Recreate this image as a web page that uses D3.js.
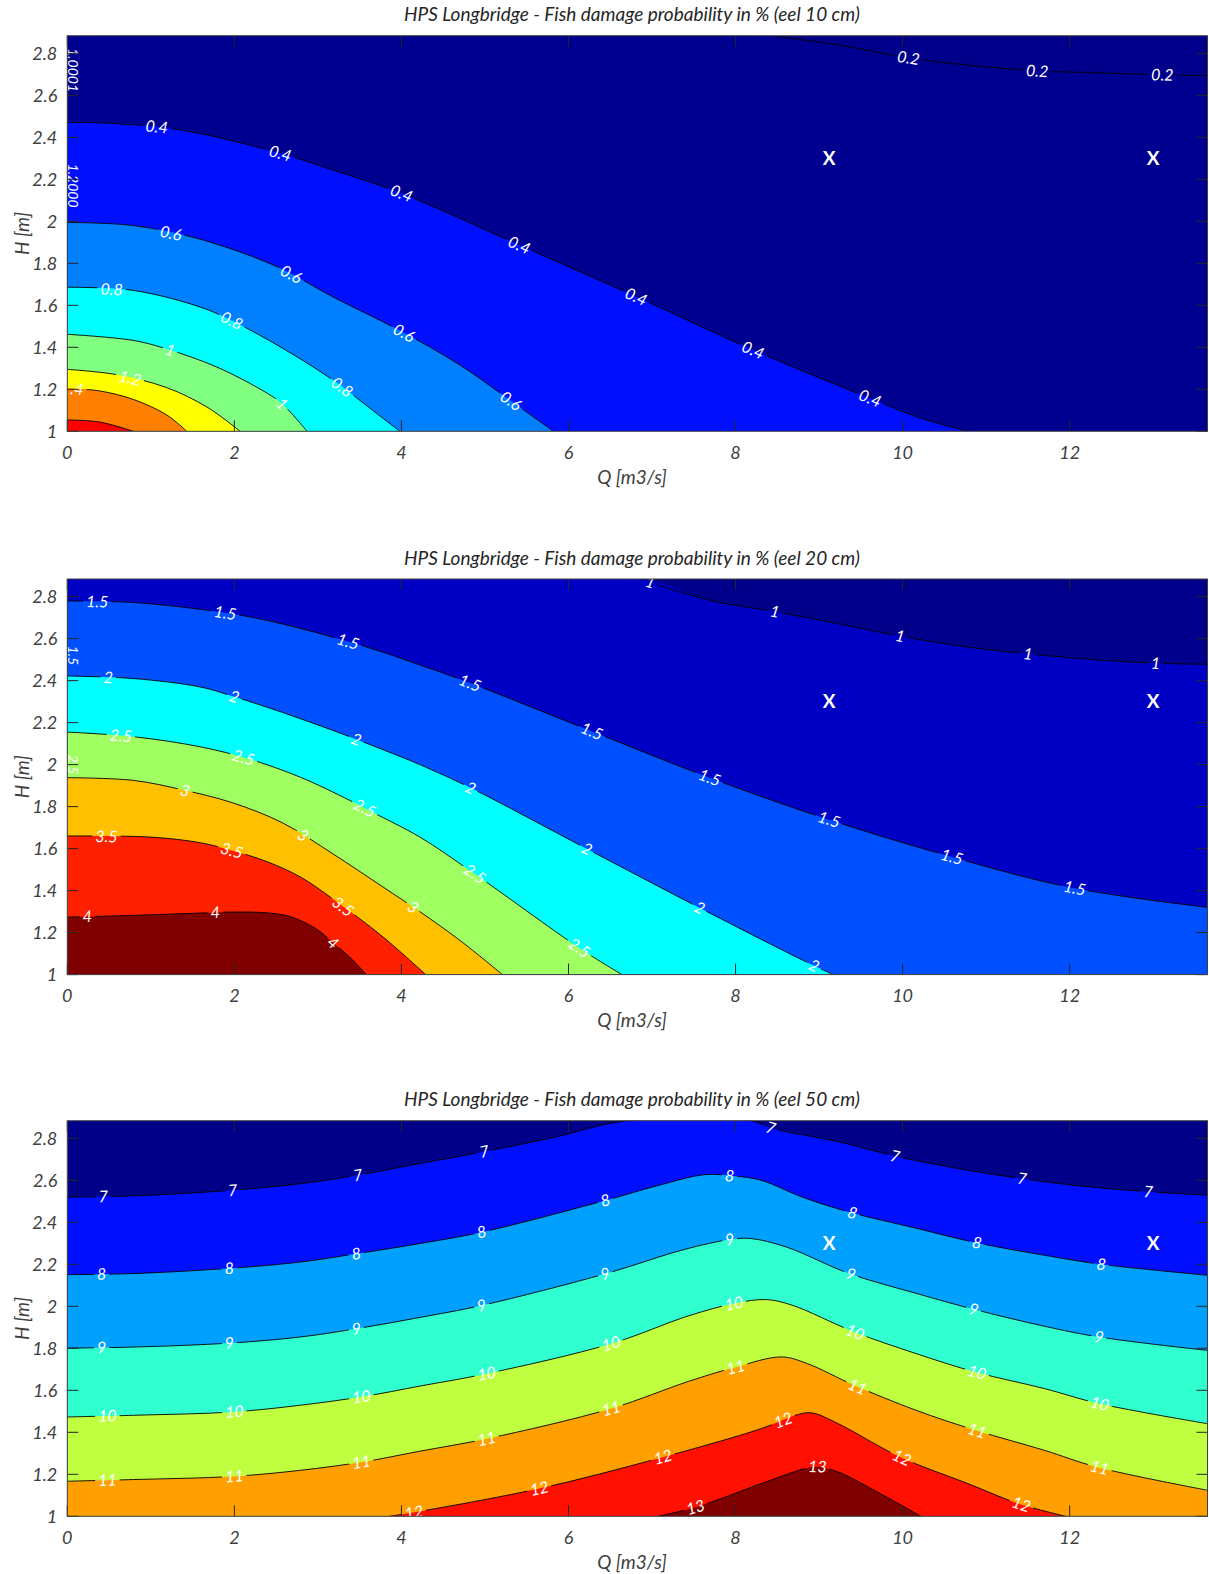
<!DOCTYPE html>
<html><head><meta charset="utf-8">
<script src="https://cdn.jsdelivr.net/npm/d3@7"></script>
<style>
html,body{margin:0;padding:0;background:#fff;}
svg{display:block;}
text{font-family:Lato,"Open Sans",sans-serif;}
</style></head><body>
<svg id="chart" width="1209" height="1574"></svg>
<script>
// ---------------- data ----------------
const Q_RANGE = [0, 13.65];
const H_RANGE = [1, 2.884];
const qTicks = [0, 2, 4, 6, 8, 10, 12];
const qTickLabels = ["0", "2", "4", "6", "8", "10", "12"];
const hTicks = [1, 1.2, 1.4, 1.6, 1.8, 2, 2.2, 2.4, 2.6, 2.8];
const hTickLabels = ["1", "1.2", "1.4", "1.6", "1.8", "2", "2.2", "2.4", "2.6", "2.8"];
const markerQ = [9.12, 13.0];
const markerH = [2.3, 2.3];
const titles = [
  "HPS Longbridge - Fish damage probability in % (eel 10 cm)",
  "HPS Longbridge - Fish damage probability in % (eel 20 cm)",
  "HPS Longbridge - Fish damage probability in % (eel 50 cm)"
];
const xLabel = "Q [m3/s]";
const yLabel = "H [m]";

// eel 10 cm: contour lines [Q, H]
const eel10Levels = ["0.2", "0.4", "0.6", "0.8", "1", "1.2", "1.4", "1.6"];
const eel10_c02 = [[8.43,2.884],[9.23,2.84],[10.07,2.778],[10.78,2.744],[11.61,2.716],[12.32,2.708],[13.11,2.697],[13.65,2.694]];
const eel10_c04 = [[0,2.471],[0.39,2.469],[1.07,2.45],[1.59,2.418],[2.55,2.324],[3.18,2.244],[4.0,2.133],[5.41,1.887],[6.81,1.641],[8.21,1.387],[9.61,1.157],[10.2,1.065],[10.78,1.0]];
const eel10_c06 = [[0,1.995],[0.79,1.98],[1.59,1.915],[2.51,1.784],[3.18,1.64],[3.98,1.48],[4.7,1.316],[5.31,1.145],[5.82,1.0]];
const eel10_c08 = [[0,1.686],[0.79,1.671],[1.59,1.592],[1.98,1.525],[2.58,1.395],[3.18,1.244],[3.59,1.12],[3.98,1.0]];
const eel10_c10 = [[0,1.462],[0.79,1.433],[1.19,1.392],[1.79,1.306],[2.39,1.182],[2.58,1.128],[2.87,1.0]];
const eel10_c12 = [[0,1.295],[0.59,1.27],[1.19,1.208],[1.67,1.116],[2.07,1.0]];
const eel10_c14 = [[0,1.205],[0.39,1.192],[0.79,1.152],[1.19,1.078],[1.43,1.0]];
const eel10_c16 = [[0,1.054],[0.39,1.044],[0.79,1.0]];
const eel10LabelQ = [[10.07,11.61,13.11],[1.07,2.55,4.0,5.41,6.81,8.21,9.61],[1.24,2.68,4.03,5.31],[0.53,1.97,3.29],[1.23,2.57],[0.75],[0.06],[]];
const eel10EdgeText = ["1.0001", "1.2000"];
const eel10EdgeH = [2.72, 2.17];

// eel 20 cm
const eel20Levels = ["1", "1.5", "2", "2.5", "3", "3.5", "4"];
const eel20_c10 = [[6.85,2.884],[7.69,2.783],[8.49,2.727],[9.23,2.671],[9.97,2.612],[10.78,2.56],[11.52,2.527],[12.32,2.499],[13.03,2.483],[13.65,2.478]];
const eel20_c15 = [[0,2.779],[0.79,2.772],[1.79,2.729],[2.39,2.687],[3.18,2.607],[3.78,2.535],[4.22,2.475],[4.78,2.395],[6.21,2.17],[7.62,1.948],[9.04,1.748],[10.53,1.567],[12.01,1.415],[13.65,1.32]];
const eel20_c20 = [[0,2.422],[0.79,2.41],[1.59,2.37],[1.98,2.326],[2.58,2.248],[3.18,2.163],[3.78,2.071],[4.22,2.0],[4.84,1.887],[6.21,1.601],[7.56,1.32],[8.93,1.044],[9.17,1.0]];
const eel20_c25 = [[0,2.155],[0.79,2.133],[1.59,2.085],[2.19,2.025],[2.79,1.94],[3.38,1.83],[3.66,1.772],[4.22,1.655],[4.84,1.49],[6.14,1.124],[6.64,1.0]];
const eel20_c30 = [[0,1.938],[0.79,1.925],[1.38,1.88],[1.98,1.818],[2.58,1.722],[3.18,1.575],[3.78,1.417],[4.22,1.3],[4.7,1.163],[5.21,1.0]];
const eel20_c35 = [[0,1.66],[0.99,1.655],[1.59,1.628],[1.98,1.59],[2.39,1.538],[2.79,1.465],[3.18,1.36],[3.78,1.179],[4.29,1.0]];
const eel20_c40 = [[0,1.274],[0.79,1.282],[1.59,1.293],[1.98,1.298],[2.39,1.294],[2.67,1.276],[2.98,1.218],[3.18,1.152],[3.38,1.084],[3.58,1.0]];
const eel20LabelQ = [[6.98,8.47,9.97,11.5,13.03],[0.36,1.89,3.36,4.82,6.28,7.69,9.12,10.59,12.06],[0.49,2.0,3.46,4.83,6.22,7.57,8.94],[0.64,2.11,3.56,4.88,6.13],[1.41,2.82,4.14],[0.47,1.97,3.3],[0.24,1.77,3.18]];
const eel20EdgeText = ["1.5", "2.5"];
const eel20EdgeH = [2.52, 2.0];

// eel 50 cm
const eel50Levels = ["7", "8", "9", "10", "11", "12", "13"];
const eel50_c07 = [[0,2.52],[0.79,2.526],[1.98,2.553],[2.79,2.584],[3.47,2.624],[4.22,2.68],[4.97,2.735],[5.83,2.805],[6.7,2.884],[8.18,2.884],[8.43,2.848],[9.23,2.784],[9.91,2.715],[10.65,2.657],[11.39,2.61],[12.2,2.57],[12.94,2.546],[13.65,2.529]];
const eel50_c08 = [[0,2.151],[0.79,2.156],[1.98,2.182],[2.79,2.211],[3.47,2.251],[4.22,2.299],[4.97,2.354],[6.45,2.505],[7.07,2.575],[7.63,2.627],[8.0,2.62],[8.31,2.6],[8.8,2.52],[9.36,2.449],[10.16,2.372],[10.87,2.304],[11.7,2.243],[12.38,2.2],[13.65,2.148]];
const eel50_c09 = [[0,1.801],[0.79,1.806],[1.95,1.825],[2.79,1.854],[3.47,1.894],[4.22,1.947],[4.97,2.005],[6.45,2.156],[7.38,2.27],[7.93,2.318],[8.18,2.323],[8.61,2.282],[9.36,2.156],[10.16,2.062],[10.84,1.987],[11.7,1.905],[12.35,1.854],[13.65,1.79]];
const eel50_c10 = [[0,1.473],[0.79,1.481],[1.98,1.497],[2.79,1.529],[3.54,1.57],[4.22,1.62],[5.03,1.68],[6.51,1.822],[7.44,1.955],[8.0,2.015],[8.37,2.032],[8.68,2.005],[9.42,1.878],[10.16,1.775],[10.87,1.687],[11.7,1.608],[12.35,1.537],[13.65,1.441]];
const eel50_c11 = [[0,1.167],[0.79,1.175],[1.98,1.19],[2.79,1.219],[3.54,1.259],[4.22,1.31],[5.03,1.37],[6.51,1.513],[7.44,1.643],[8.0,1.71],[8.55,1.759],[8.86,1.727],[9.42,1.624],[10.16,1.505],[10.87,1.41],[11.7,1.314],[12.32,1.235],[13.65,1.124]];
const eel50_c12 = [[3.86,1.0],[4.17,1.02],[5.65,1.132],[7.07,1.275],[8.31,1.418],[8.75,1.485],[8.92,1.492],[9.23,1.441],[9.97,1.282],[10.78,1.156],[11.39,1.06],[11.95,1.0]];
const eel50_c13 = [[7.07,1.0],[7.53,1.044],[8.31,1.156],[8.82,1.226],[8.98,1.236],[9.23,1.211],[9.66,1.124],[10.22,1.0]];
const eel50LabelQ = [[0.43,1.98,3.48,4.99,8.42,9.91,11.43,12.94],[0.41,1.94,3.46,4.96,6.44,7.93,9.4,10.89,12.38],[0.41,1.94,3.46,4.96,6.44,7.93,9.38,10.85,12.35],[0.48,2.0,3.52,5.02,6.51,7.98,9.43,10.89,12.36],[0.48,2.0,3.52,5.02,6.51,8.0,9.46,10.89,12.36],[4.15,5.65,7.13,8.57,9.99,11.42],[7.52,8.98]];
const eel50EdgeText = [];
const eel50EdgeH = [];

// ---------------- styles ----------------
const eel10Colors = ["#00008A","#000090","#0010FF","#0080FF","#00FFFF","#80FF80","#FFFF00","#FF8000","#FF0000"];
const eel20Colors = ["#00008A","#0000C4","#0050FF","#00FFFF","#A0FF60","#FFC000","#FF2000","#800000"];
const eel50Colors = ["#000088","#0010FF","#00A0FF","#30FFD0","#C0FF40","#FFA000","#FF1000","#800000"];

const panels = [
  {title: titles[0], top: 35.7, levels: eel10Levels, colors: eel10Colors,
   lines: [eel10_c02, eel10_c04, eel10_c06, eel10_c08, eel10_c10, eel10_c12, eel10_c14, eel10_c16],
   labelQ: eel10LabelQ, edgeText: eel10EdgeText, edgeH: eel10EdgeH},
  {title: titles[1], top: 579, levels: eel20Levels, colors: eel20Colors,
   lines: [eel20_c10, eel20_c15, eel20_c20, eel20_c25, eel20_c30, eel20_c35, eel20_c40],
   labelQ: eel20LabelQ, edgeText: eel20EdgeText, edgeH: eel20EdgeH},
  {title: titles[2], top: 1120.7, levels: eel50Levels, colors: eel50Colors,
   lines: [eel50_c07, eel50_c08, eel50_c09, eel50_c10, eel50_c11, eel50_c12, eel50_c13],
   labelQ: eel50LabelQ, edgeText: eel50EdgeText, edgeH: eel50EdgeH}
];

// ---------------- drawing ----------------
const LEFT = 67.3, PW = 1140.2, PH = 395.6;
const svg = d3.select("#chart");
const defs = svg.append("defs");
const x = d3.scaleLinear().domain(Q_RANGE).range([0, PW]);
const y = d3.scaleLinear().domain(H_RANGE).range([PH, 0]);
const curve = d3.curveCatmullRom.alpha(0.5);
const area = d3.area().x(d => x(d[0])).y0(y(H_RANGE[0])).y1(d => y(d[1])).curve(curve);
const line = d3.line().x(d => x(d[0])).y(d => y(d[1])).curve(curve);

function interpH(pts, q) {
  if (q <= pts[0][0]) return pts[0][1];
  for (let i = 1; i < pts.length; i++) {
    if (q <= pts[i][0]) {
      const a = pts[i-1], b = pts[i];
      const t = (q - a[0]) / (b[0] - a[0] || 1);
      return a[1] + t * (b[1] - a[1]);
    }
  }
  return pts[pts.length-1][1];
}

panels.forEach((p, pi) => {
  const g = svg.append("g").attr("transform", `translate(${LEFT},${p.top})`);
  const clipId = "clip" + pi, maskId = "mask" + pi;
  defs.append("clipPath").attr("id", clipId).append("rect").attr("width", PW).attr("height", PH);
  const plot = g.append("g").attr("clip-path", `url(#${clipId})`);

  plot.append("rect").attr("width", PW).attr("height", PH).attr("fill", p.colors[0]);
  p.lines.forEach((pts, i) => {
    let d = pts.slice();
    if (d[0][0] > Q_RANGE[0] && d[0][1] >= H_RANGE[1] - 1e-9) d = [[Q_RANGE[0], H_RANGE[1]]].concat(d);
    plot.append("path").datum(d).attr("d", area).attr("fill", p.colors[i + 1]);
  });

  const mask = defs.append("mask").attr("id", maskId).attr("maskUnits", "userSpaceOnUse")
    .attr("x", -20).attr("y", -20).attr("width", PW + 40).attr("height", PH + 40);
  mask.append("rect").attr("x", -20).attr("y", -20).attr("width", PW + 40).attr("height", PH + 40).attr("fill", "#fff");

  const lineG = plot.append("g").attr("mask", `url(#${maskId})`);
  p.lines.forEach(pts => {
    lineG.append("path").datum(pts).attr("d", line).attr("fill", "none")
      .attr("stroke", "#000").attr("stroke-width", 0.9);
  });

  const labG = plot.append("g");
  p.lines.forEach((pts, i) => {
    p.labelQ[i].forEach(q => {
      const h = interpH(pts, q);
      const q0 = Math.max(pts[0][0], q - 0.2), q1 = Math.min(pts[pts.length-1][0], q + 0.2);
      const dx = x(q1) - x(q0), dy = y(interpH(pts, q1)) - y(interpH(pts, q0));
      const ang = Math.atan2(dy, dx) * 180 / Math.PI;
      const px = x(q), py = y(h);
      const t = labG.append("text")
        .attr("transform", `translate(${px},${py}) rotate(${ang})`)
        .attr("text-anchor", "middle").attr("dy", "0.35em")
        .attr("font-size", 16).attr("font-style", "italic").attr("fill", "#fff")
        .text(p.levels[i]);
      const w = t.node().getComputedTextLength() + 6;
      mask.append("rect").attr("x", -w / 2).attr("y", -7).attr("width", w).attr("height", 14)
        .attr("transform", `translate(${px},${py}) rotate(${ang})`).attr("fill", "#000");
    });
  });

  p.edgeText.forEach((s, i) => {
    labG.append("text")
      .attr("transform", `translate(${x(Q_RANGE[0]) + 1},${y(p.edgeH[i])}) rotate(90)`)
      .attr("text-anchor", "middle").attr("font-size", 14).attr("font-style", "italic")
      .attr("fill", "#fff").text(s);
  });

  markerQ.forEach((q, i) => {
    plot.append("text").attr("x", x(q)).attr("y", y(markerH[i])).attr("dy", "0.36em")
      .attr("text-anchor", "middle").attr("font-size", 19).attr("font-weight", "bold")
      .attr("fill", "#fff").text("X");
  });

  // frame and ticks
  const TL = 11, tc = "#262626";
  qTicks.forEach(q => {
    g.append("line").attr("x1", x(q)).attr("x2", x(q)).attr("y1", PH).attr("y2", PH - TL).attr("stroke", tc);
    g.append("line").attr("x1", x(q)).attr("x2", x(q)).attr("y1", 0).attr("y2", TL).attr("stroke", tc);
  });
  hTicks.forEach(h => {
    g.append("line").attr("x1", 0).attr("x2", TL).attr("y1", y(h)).attr("y2", y(h)).attr("stroke", tc);
    g.append("line").attr("x1", PW).attr("x2", PW - TL).attr("y1", y(h)).attr("y2", y(h)).attr("stroke", tc);
  });
  g.append("rect").attr("width", PW).attr("height", PH).attr("fill", "none")
    .attr("stroke", "#404040").attr("stroke-width", 1);

  const tickFont = 18, tickCol = "#404040";
  qTicks.forEach((q, i) => {
    g.append("text").attr("x", x(q)).attr("y", PH + 21).attr("dy", "0.35em")
      .attr("text-anchor", "middle").attr("font-size", tickFont).attr("font-style", "italic")
      .attr("fill", tickCol).text(qTickLabels[i]);
  });
  hTicks.forEach((h, i) => {
    g.append("text").attr("x", -10).attr("y", y(h)).attr("dy", "0.35em")
      .attr("text-anchor", "end").attr("font-size", tickFont).attr("font-style", "italic")
      .attr("fill", tickCol).text(hTickLabels[i]);
  });
  g.append("text").attr("x", 632 - LEFT).attr("y", PH + 46).attr("dy", "0.35em")
    .attr("text-anchor", "middle").attr("font-size", 19).attr("font-style", "italic")
    .attr("fill", tickCol).text(xLabel);
  g.append("text").attr("transform", `translate(${22 - LEFT},${PH / 2}) rotate(-90)`).attr("dy", "0.35em")
    .attr("text-anchor", "middle").attr("font-size", 19).attr("font-style", "italic")
    .attr("fill", tickCol).text(yLabel);
  g.append("text").attr("x", 632 - LEFT).attr("y", -21).attr("dy", "0.35em")
    .attr("text-anchor", "middle").attr("font-size", 19).attr("font-style", "italic")
    .attr("fill", "#262626").text(p.title);
});
</script></body></html>
